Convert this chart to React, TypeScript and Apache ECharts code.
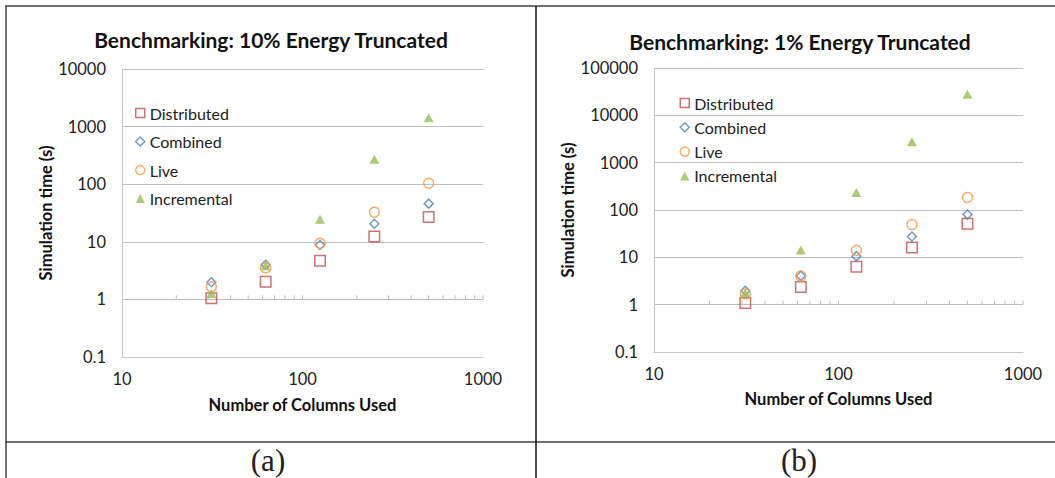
import React, { useEffect, useRef } from "react";
import * as echarts from "echarts";

// Number of columns used (shared x values)
const columns = [31.25, 62.5, 125, 250, 500];

// (a) 10% energy truncated — simulation time in seconds
const distributedA = [1.05, 2.02, 4.7, 12.3, 27];
const combinedA = [1.98, 4.0, 8.8, 20.6, 46];
const liveA = [1.66, 3.55, 9.4, 32.6, 104];
const incrementalA = [1.27, 3.84, 24.6, 272, 1430];

// (b) 1% energy truncated — simulation time in seconds
const distributedB = [1.09, 2.36, 6.3, 16.2, 51];
const combinedB = [1.97, 4.09, 10.6, 27.6, 80];
const liveB = [1.68, 4.03, 14, 49.5, 184];
const incrementalB = [1.77, 14.3, 234, 2750, 27900];

// Minor tick positions on the horizontal axis line at y = 1
const xTickValues = [20, 30, 40, 50, 60, 70, 80, 90, 100, 200, 300, 400, 500, 600, 700, 800, 900, 1000];

const seriesNames = ["Distributed", "Combined", "Live", "Incremental"];

const RED = "#C0504D";
const BLUE = "#4F81BD";
const ORANGE = "#F79646";
const GREEN = "#9BBB59";
const GRID_GRAY = "#bfbfbf";
const AXIS_GRAY = "#c8c8c8";
const FONT = "Lato";

const styles: Record<string, any> = {
  Distributed: { symbol: "rect", size: 10.5, itemStyle: { color: "rgba(0,0,0,0)", borderColor: RED, borderWidth: 1.5 } },
  Combined: { symbol: "diamond", size: 9, itemStyle: { color: "rgba(0,0,0,0)", borderColor: BLUE, borderWidth: 1.5 } },
  Live: { symbol: "circle", size: 10, itemStyle: { color: "rgba(0,0,0,0)", borderColor: ORANGE, borderWidth: 1.5 } },
  Incremental: { symbol: "triangle", size: [10, 9], itemStyle: { color: GREEN, borderWidth: 0 } },
};

function scatter(name: string, values: number[], idx: number) {
  const s = styles[name];
  return {
    type: "scatter",
    name,
    xAxisIndex: idx,
    yAxisIndex: idx,
    symbol: s.symbol,
    symbolSize: s.size,
    itemStyle: s.itemStyle,
    data: columns.map((c, i) => [c, values[i]]),
    z: 3,
  };
}

function tickSeries(idx: number) {
  return {
    type: "custom",
    xAxisIndex: idx,
    yAxisIndex: idx,
    silent: true,
    z: 1,
    data: xTickValues.map((v) => [v, 1]),
    renderItem: (_params: any, api: any) => {
      const p = api.coord([api.value(0), api.value(1)]);
      return {
        type: "line",
        shape: { x1: p[0], y1: p[1], x2: p[0], y2: p[1] - 4 },
        style: { stroke: GRID_GRAY, lineWidth: 1 },
      };
    },
  };
}

const fmt = (v: number) => (v < 1 ? v.toFixed(1) : String(Math.round(v)));

function xAxis(gridIndex: number, gap: number) {
  return {
    type: "log",
    logBase: 10,
    gridIndex,
    min: 10,
    max: 1000,
    name: "Number of Columns Used",
    nameLocation: "middle",
    nameGap: gap,
    nameTextStyle: { fontFamily: FONT, fontWeight: "bold", fontSize: 16.5, color: "#111" },
    axisLine: { show: true, lineStyle: { color: AXIS_GRAY, width: 1 } },
    axisTick: { show: false },
    splitLine: { show: false },
    axisLabel: { formatter: fmt, fontFamily: FONT, fontSize: 16.5, color: "#222", margin: 13 },
  };
}

function yAxis(gridIndex: number, max: number, gap: number) {
  return {
    type: "log",
    logBase: 10,
    gridIndex,
    min: 0.1,
    max,
    name: "Simulation time (s)",
    nameLocation: "middle",
    nameGap: gap,
    nameTextStyle: { fontFamily: FONT, fontWeight: "bold", fontSize: 16.5, color: "#111" },
    axisLine: { show: true, lineStyle: { color: AXIS_GRAY, width: 1 } },
    axisTick: { show: false },
    splitLine: { show: true, lineStyle: { color: GRID_GRAY, width: 1 } },
    axisLabel: { formatter: fmt, fontFamily: FONT, fontSize: 16.5, color: "#222", margin: 16 },
  };
}

function legend(left: number, top: number, gap: number) {
  return {
    orient: "vertical",
    left,
    top,
    padding: 0,
    itemWidth: 9,
    itemHeight: 9,
    itemGap: gap,
    selectedMode: false,
    textStyle: { fontFamily: FONT, fontSize: 16, color: "#222", lineHeight: 18 },
    data: seriesNames.map((n) => ({
      name: n,
      icon: styles[n].symbol,
      itemStyle: styles[n].itemStyle,
    })),
  };
}

const titleStyle = { fontFamily: FONT, fontWeight: "bold", fontSize: 21, fill: "#111" };
const captionStyle = { fontFamily: "Liberation Serif", fontSize: 31, fill: "#222" };
const border = { stroke: "#444", lineWidth: 1.5 };

const option = {
  animation: false,
  backgroundColor: "#fff",
  grid: [
    { left: 122, top: 69, width: 361, height: 288 },
    { left: 654, top: 68, width: 369, height: 284 },
  ],
  xAxis: [xAxis(0, 39), xAxis(1, 38)],
  yAxis: [yAxis(0, 10000, 65), yAxis(1, 100000, 70)],
  legend: [legend(135, 104, 10.5), legend(679.5, 94, 6.3)],
  series: [
    tickSeries(0),
    tickSeries(1),
    scatter("Distributed", distributedA, 0),
    scatter("Combined", combinedA, 0),
    scatter("Live", liveA, 0),
    scatter("Incremental", incrementalA, 0),
    scatter("Distributed", distributedB, 1),
    scatter("Combined", combinedB, 1),
    scatter("Live", liveB, 1),
    scatter("Incremental", incrementalB, 1),
  ],
  graphic: [
    { type: "line", shape: { x1: 5, y1: 6, x2: 1055, y2: 6 }, style: border },
    { type: "line", shape: { x1: 5, y1: 442, x2: 1055, y2: 442 }, style: border },
    { type: "line", shape: { x1: 6, y1: 6, x2: 6, y2: 478 }, style: border },
    { type: "line", shape: { x1: 536, y1: 6, x2: 536, y2: 478 }, style: { stroke: "#111", lineWidth: 1.5 } },
    {
      type: "text",
      x: 271,
      y: 39,
      style: { text: "Benchmarking: 10% Energy Truncated", textAlign: "center", textVerticalAlign: "middle", ...titleStyle },
    },
    {
      type: "text",
      x: 800,
      y: 41,
      style: { text: "Benchmarking: 1% Energy Truncated", textAlign: "center", textVerticalAlign: "middle", ...titleStyle },
    },
    {
      type: "text",
      x: 268,
      y: 460,
      style: { text: "(a)", textAlign: "center", textVerticalAlign: "middle", ...captionStyle },
    },
    {
      type: "text",
      x: 799,
      y: 460,
      style: { text: "(b)", textAlign: "center", textVerticalAlign: "middle", ...captionStyle },
    },
  ],
};

export default function App() {
  const ref = useRef<HTMLDivElement>(null);
  useEffect(() => {
    const chart = echarts.init(ref.current!, null, { renderer: "svg" });
    chart.setOption(option as any);
    return () => chart.dispose();
  }, []);
  return (
    <div
      ref={ref}
      style={{ position: "fixed", left: 0, top: 0, width: 1055, height: 478, background: "#fff" }}
    />
  );
}
